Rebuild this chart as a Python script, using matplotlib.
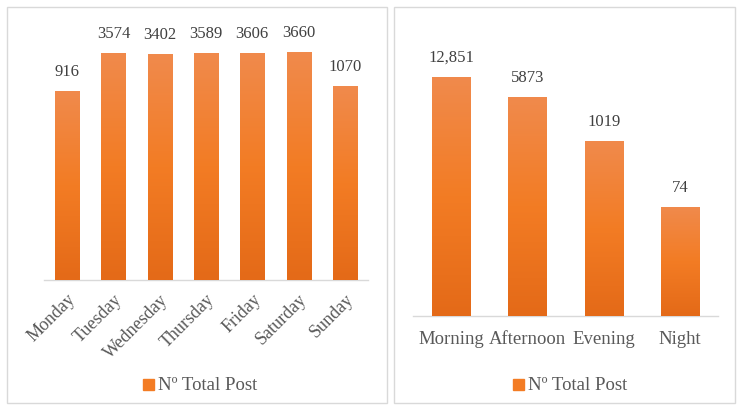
import numpy as np
import matplotlib
matplotlib.use("Agg")
import matplotlib.pyplot as plt
from matplotlib.patches import Rectangle
from matplotlib.colors import LinearSegmentedColormap

days = ["Monday", "Tuesday", "Wednesday", "Thursday", "Friday", "Saturday", "Sunday"]
day_posts = [916, 3574, 3402, 3589, 3606, 3660, 1070]
day_labels = ["916", "3574", "3402", "3589", "3606", "3660", "1070"]

periods = ["Morning", "Afternoon", "Evening", "Night"]
period_posts = [12851, 5873, 1019, 74]
period_labels = ["12,851", "5873", "1019", "74"]

legend_label = "Nº Total Post"

W, H = 743, 408
TEXT = "#595959"
plt.rcParams["font.family"] = ["Liberation Serif", "DejaVu Serif"]

grad = LinearSegmentedColormap.from_list("bar", ["#E46A18", "#F37C24", "#F08A4C"])

fig = plt.figure(figsize=(W / 100, H / 100), dpi=100)


def px_box(x0, y0, x1, y1):
    # pixel coords (top-left origin) -> figure fraction rect
    return [x0 / W, 1 - y1 / H, (x1 - x0) / W, (y1 - y0) / H]


def panel(x0, y0, x1, y1):
    l, b, w, h = px_box(x0, y0, x1, y1)
    fig.patches.append(Rectangle((l, b), w, h, transform=fig.transFigure,
                                 fill=False, edgecolor="#D9D9D9", linewidth=1.0))


def gradient_bars(ax, values, labels, width):
    bars = ax.bar(range(len(values)), values, width=width, bottom=1,
                  color="#F37C24", edgecolor="none", zorder=2)
    fig.canvas.draw()
    inv = ax.transAxes.inverted()
    img = np.linspace(0, 1, 100).reshape(-1, 1)
    for b, lab in zip(bars, labels):
        bb = b.get_window_extent().transformed(inv)
        im = ax.imshow(img, cmap=grad, origin="lower", aspect="auto",
                       extent=[bb.x0, bb.x1, bb.y0, bb.y1],
                       transform=ax.transAxes, zorder=3)
        im.set_clip_path(b)
        ax.annotate(lab, (b.get_x() + b.get_width() / 2, b.get_height() + 1),
                    xytext=(0, 8), textcoords="offset points",
                    ha="center", va="bottom", fontsize=12, color="#404040")
    return bars


def style(ax, size):
    ax.set_yscale("log")
    for s in ["top", "right", "left"]:
        ax.spines[s].set_visible(False)
    ax.spines["bottom"].set_color("#D9D9D9")
    ax.spines["bottom"].set_linewidth(1.0)
    ax.set_yticks([])
    ax.yaxis.set_minor_locator(matplotlib.ticker.NullLocator())
    ax.tick_params(axis="x", length=0, colors=TEXT, labelsize=size)
    ax.set_facecolor("none")


panel(7, 7, 387, 403)
panel(394, 7, 735, 403)

# left panel: posts by weekday
ax1 = fig.add_axes(px_box(44, 20, 368, 280))
style(ax1, 13)
ax1.set_xlim(-0.5, len(days) - 0.5)
ax1.set_ylim(1, 11720)
gradient_bars(ax1, day_posts, day_labels, 0.52)
ax1.set_xticks(range(len(days)))
ax1.set_xticklabels(days, rotation=45, ha="right", rotation_mode="anchor")
ax1.tick_params(axis="x", pad=8)

# right panel: posts by time of day
ax2 = fig.add_axes(px_box(413, 20, 718, 316))
style(ax2, 13.5)
ax2.set_xlim(-0.5, len(periods) - 0.5)
ax2.set_ylim(1, 121900)
gradient_bars(ax2, period_posts, period_labels, 0.5)
ax2.set_xticks(range(len(periods)))
ax2.set_xticklabels(periods)
ax2.tick_params(axis="x", pad=11)

# legends
for sq_x, txt_x in ((143, 158), (513, 528)):
    fig.patches.append(Rectangle((sq_x / W, 1 - 390 / H), 11 / W, 11 / H,
                                 transform=fig.transFigure, color="#F37C24"))
    fig.text(txt_x / W, 1 - 385 / H, legend_label, ha="left", va="center",
             fontsize=13.5, color=TEXT)

fig.savefig("out.png", dpi=100)
